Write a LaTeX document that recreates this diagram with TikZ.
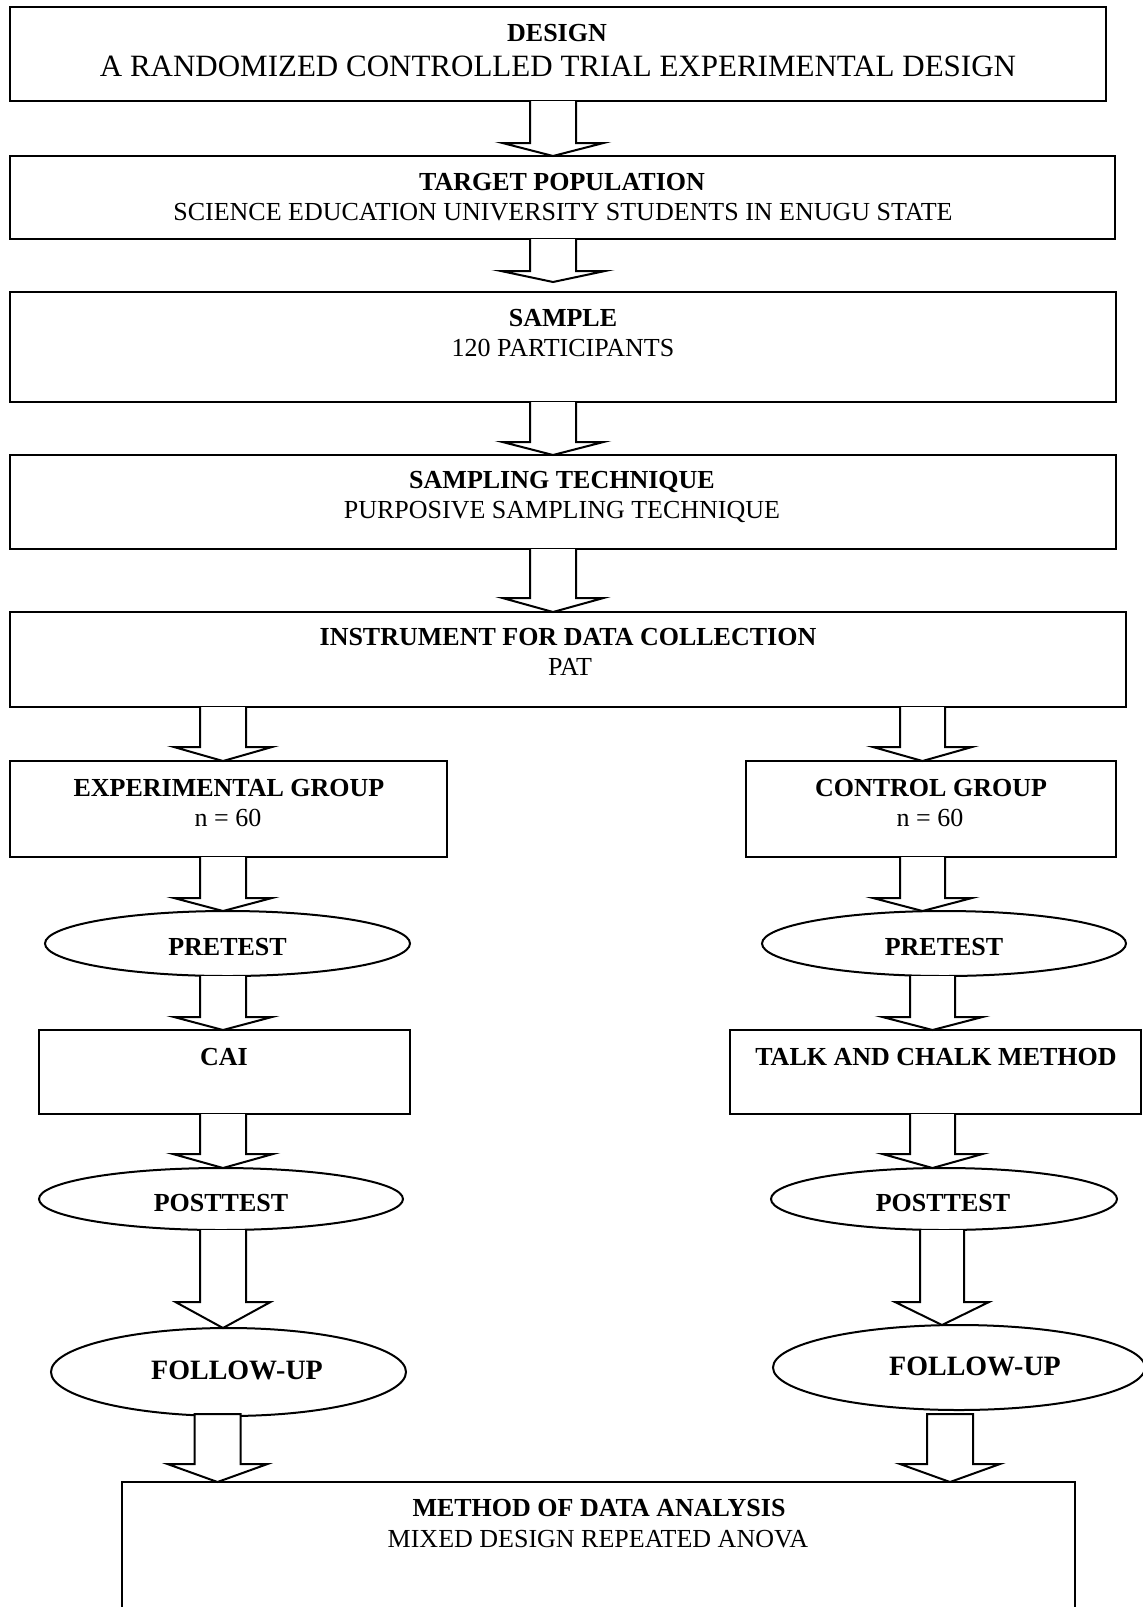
\documentclass[tikz,border=0pt]{standalone}
\usepackage{fontspec}
\setmainfont{Liberation Serif}
\usetikzlibrary{shapes.geometric,calc}
\tikzset{
  boxnode/.style={draw,line width=1pt,rectangle,inner sep=0pt,outer sep=0pt},
  ovalnode/.style={draw,line width=1pt,ellipse,inner sep=0pt,outer sep=0pt},
  hd/.style={anchor=base,inner sep=0pt,font=\fontsize{13}{15}\selectfont\bfseries},
  tx/.style={anchor=base,inner sep=0pt,font=\fontsize{13}{15}\selectfont},
  arrowline/.style={draw,line width=1pt,line join=miter,fill=white},
}
% #1 start coord, #2 tip coord, #3 shaft half width, #4 head half width, #5 head length
\newcommand\BlockArrowOpen[5]{%
  \draw[arrowline] ($(#1)+(-#3,0)$) -- ($(#2)+(-#3,-#5)$) -- ($(#2)+(-#4,-#5)$) -- (#2)
    -- ($(#2)+(#4,-#5)$) -- ($(#2)+(#3,-#5)$) -- ($(#1)+(#3,0)$);}
\newcommand\BlockArrowClosed[5]{%
  \draw[arrowline] ($(#1)+(-#3,0)$) -- ($(#2)+(-#3,-#5)$) -- ($(#2)+(-#4,-#5)$) -- (#2)
    -- ($(#2)+(#4,-#5)$) -- ($(#2)+(#3,-#5)$) -- ($(#1)+(#3,0)$) -- cycle;}
\begin{document}
\begin{tikzpicture}[x=0.5pt,y=-0.5pt]
\useasboundingbox (0,0) rectangle (1143,1607);
\clip (0,0) rectangle (1143,1607);

% boxes
\node[boxnode,minimum width=548pt,minimum height=47pt] (design) at (558,54) {};
\node[boxnode,minimum width=552.5pt,minimum height=41.5pt] (target) at (562.5,197.5) {};
\node[boxnode,minimum width=553pt,minimum height=55pt] (sample) at (563,347) {};
\node[boxnode,minimum width=553pt,minimum height=47pt] (sampling) at (563,502) {};
\node[boxnode,minimum width=558pt,minimum height=47.5pt] (instr) at (568,659.5) {};
\node[boxnode,minimum width=218.5pt,minimum height=48pt] (exp) at (228.5,809) {};
\node[boxnode,minimum width=185pt,minimum height=48pt] (ctrl) at (931,809) {};
\node[boxnode,minimum width=185.5pt,minimum height=42pt] (cai) at (224.5,1072) {};
\node[boxnode,minimum width=205.5pt,minimum height=42pt] (talk) at (935.5,1072) {};
\node[boxnode,minimum width=476.5pt,minimum height=79pt] (method) at (598.5,1561) {};

% ellipses
\node[ovalnode,minimum width=182.5pt,minimum height=32.5pt] (preL) at (227.5,943.5) {};
\node[ovalnode,minimum width=182pt,minimum height=32.5pt] (preR) at (944,943.5) {};
\node[ovalnode,minimum width=182pt,minimum height=31pt] (postL) at (221,1199) {};
\node[ovalnode,minimum width=173pt,minimum height=31pt] (postR) at (944,1199) {};
\node[ovalnode,minimum width=177.5pt,minimum height=44pt] (fuL) at (228.5,1372) {};
\node[ovalnode,minimum width=186pt,minimum height=42.5pt] (fuR) at (959,1367.5) {};

% texts
\node[hd] (designA) at (557,41.6) {DESIGN};
\node[tx,font=\fontsize{15.5}{18}\selectfont] (designB) at (558,76) {A RANDOMIZED CONTROLLED TRIAL EXPERIMENTAL DESIGN};
\node[hd] (targetA) at (562,190.6) {TARGET POPULATION};
\node[tx] (targetB) at (563,220.5) {SCIENCE EDUCATION UNIVERSITY STUDENTS IN ENUGU STATE};
\node[hd] (sampleA) at (563,326.6) {SAMPLE};
\node[tx] (sampleB) at (563,356.6) {120 PARTICIPANTS};
\node[hd] (samplingA) at (562,488.6) {SAMPLING TECHNIQUE};
\node[tx] (samplingB) at (562,518.6) {PURPOSIVE SAMPLING TECHNIQUE};
\node[hd] (instrA) at (568,645.6) {INSTRUMENT FOR DATA COLLECTION};
\node[tx] (instrB) at (570,675.6) {PAT};
\node[hd] (expA) at (229,796.6) {EXPERIMENTAL GROUP};
\node[tx] (expB) at (228,826.6) {n = 60};
\node[hd] (ctrlA) at (931,796.6) {CONTROL GROUP};
\node[tx] (ctrlB) at (930,826.6) {n = 60};
\node[hd] (preLt) at (227.5,955.6) {PRETEST};
\node[hd] (preRt) at (944,955.6) {PRETEST};
\node[hd] (cait) at (224,1065.6) {CAI};
\node[hd] (talkt) at (936,1065.6) {TALK AND CHALK METHOD};
\node[hd] (postLt) at (221,1211.6) {POSTTEST};
\node[hd] (postRt) at (943,1211.6) {POSTTEST};
\node[hd,font=\fontsize{14}{16}\selectfont\bfseries] (fuLt) at (237,1379.3) {FOLLOW-UP};
\node[hd,font=\fontsize{14}{16}\selectfont\bfseries] (fuRt) at (975,1375.3) {FOLLOW-UP};
\node[hd] (methodA) at (599,1516.6) {METHOD OF DATA ANALYSIS};
\node[tx] (methodB) at (598,1547.6) {MIXED DESIGN REPEATED ANOVA};

% arrow end points
\coordinate (a1s) at (553,0 |- design.south);   \coordinate (a1e) at (553,0 |- target.north);
\coordinate (a2s) at (553,0 |- target.south);   \coordinate (a2e) at (553,282);
\coordinate (a3s) at (553,0 |- sample.south);   \coordinate (a3e) at (553,0 |- sampling.north);
\coordinate (a4s) at (553,0 |- sampling.south); \coordinate (a4e) at (553,0 |- instr.north);
\coordinate (a5ls) at (223,0 |- instr.south);   \coordinate (a5le) at (223,0 |- exp.north);
\coordinate (a5rs) at (922.5,0 |- instr.south); \coordinate (a5re) at (922.5,0 |- ctrl.north);
\coordinate (a6ls) at (223,0 |- exp.south);     \coordinate (a6le) at (223,0 |- preL.north);
\coordinate (a6rs) at (922.5,0 |- ctrl.south);  \coordinate (a6re) at (922.5,0 |- preR.north);
\coordinate (a7ls) at (223,0 |- preL.south);    \coordinate (a7le) at (223,0 |- cai.north);
\coordinate (a7rs) at (932.5,0 |- preR.south);  \coordinate (a7re) at (932.5,0 |- talk.north);
\coordinate (a8ls) at (223,0 |- cai.south);     \coordinate (a8le) at (223,0 |- postL.north);
\coordinate (a8rs) at (932.5,0 |- talk.south);  \coordinate (a8re) at (932.5,0 |- postR.north);
\coordinate (a9ls) at (223,0 |- postL.south);   \coordinate (a9le) at (223,0 |- fuL.north);
\coordinate (a9rs) at (942,0 |- postR.south);   \coordinate (a9re) at (942,0 |- fuR.north);
\coordinate (a10ls) at (217.5,1414);            \coordinate (a10le) at (217.5,0 |- method.north);
\coordinate (a10rs) at (950,1414);              \coordinate (a10re) at (950,0 |- method.north);

% arrows
\BlockArrowOpen{a1s}{a1e}{23}{50.5}{13}
\BlockArrowOpen{a2s}{a2e}{23}{52}{11}
\BlockArrowOpen{a3s}{a3e}{23}{50.5}{13}
\BlockArrowOpen{a4s}{a4e}{23}{50.5}{14}
\BlockArrowOpen{a5ls}{a5le}{23}{49}{14}
\BlockArrowOpen{a5rs}{a5re}{22.5}{49.5}{14}
\BlockArrowOpen{a6ls}{a6le}{23}{49}{13}
\BlockArrowOpen{a6rs}{a6re}{22.5}{49.5}{13}
\BlockArrowOpen{a7ls}{a7le}{23}{49}{13}
\BlockArrowOpen{a7rs}{a7re}{22.5}{50}{13}
\BlockArrowOpen{a8ls}{a8le}{23}{50}{14}
\BlockArrowOpen{a8rs}{a8re}{22.5}{50}{14}
\BlockArrowOpen{a9ls}{a9le}{23}{47.5}{26}
\BlockArrowOpen{a9rs}{a9re}{22}{47}{23}
\BlockArrowClosed{a10ls}{a10le}{23}{50}{18}
\BlockArrowClosed{a10rs}{a10re}{23}{50}{18}
\end{tikzpicture}
\end{document}
